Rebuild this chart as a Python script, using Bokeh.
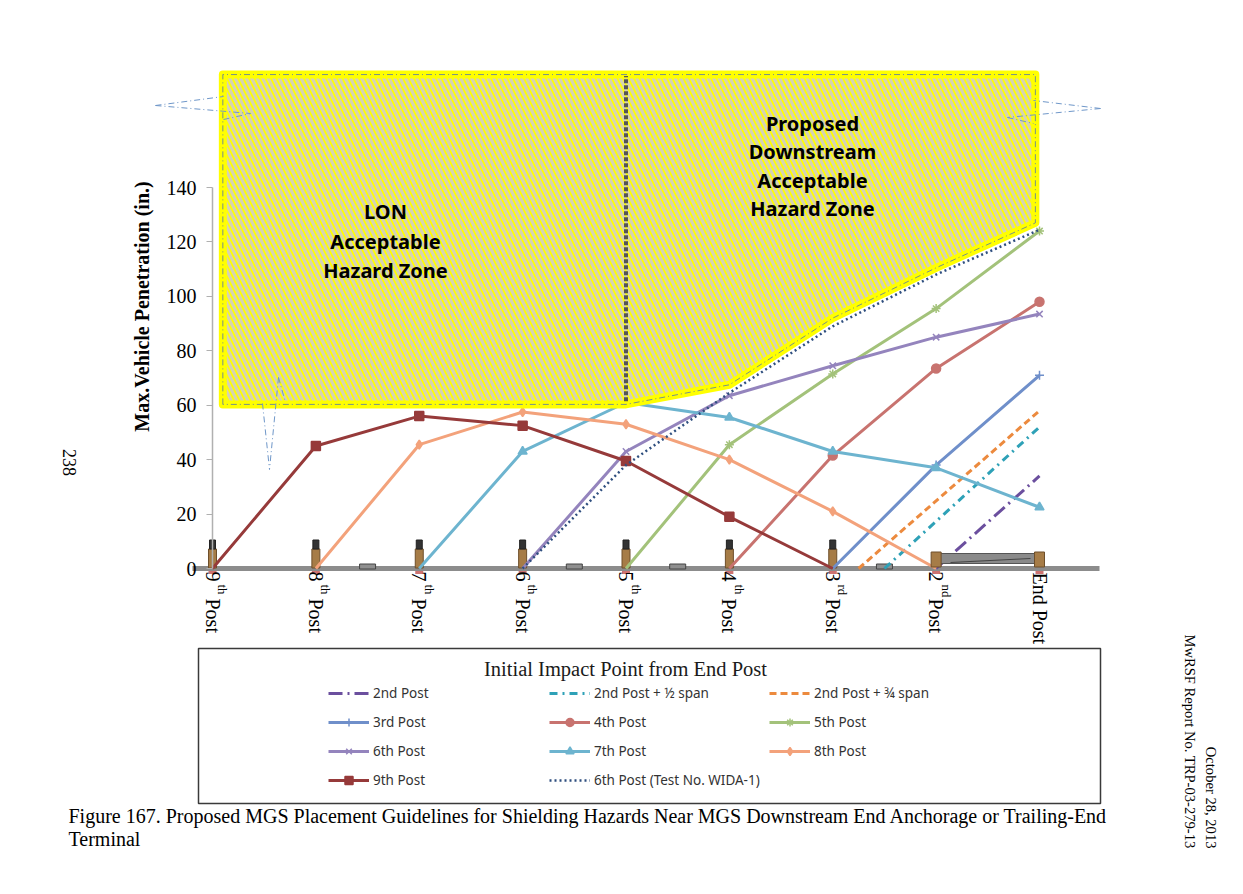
from math import pi

from bokeh.core.properties import value
from bokeh.embed import file_html
from bokeh.models import Legend, LegendItem
from bokeh.plotting import figure
from bokeh.resources import INLINE

# ---- data -------------------------------------------------------------
posts = ["9th Post", "8th Post", "7th Post", "6th Post", "5th Post",
         "4th Post", "3rd Post", "2nd Post", "End Post"]
post_num = ["9", "8", "7", "6", "5", "4", "3", "2"]
post_sup = ["th", "th", "th", "th", "th", "th", "rd", "nd"]
post_x = list(range(len(posts)))          # 0 = 9th post ... 8 = end post
y_ticks = [0, 20, 40, 60, 80, 100, 120, 140]

# max vehicle penetration (in.) vs. post position, one pair per impact point
p9_x = [0, 1, 2, 3, 4, 5, 6]
p9_y = [0, 45, 56, 52.5, 39.5, 19, 0]
p8_x = [1, 2, 3, 4, 5, 6, 7]
p8_y = [0, 45.5, 57.5, 53, 40, 21, 0]
p7_x = [2, 3, 4, 5, 6, 7, 8]
p7_y = [0, 43, 61, 55.5, 43, 37, 22.5]
p6_x = [3, 4, 5, 6, 7, 8]
p6_y = [0, 43, 63.5, 74.5, 85, 93.5]
p5_x = [4, 5, 6, 7, 8]
p5_y = [0, 45.5, 71.5, 95.5, 124]
p4_x = [5, 6, 7, 8]
p4_y = [0, 41.5, 73.5, 98]
p3_x = [6, 7, 8]
p3_y = [0, 38, 71]
p2q_x = [6.25, 8]
p2q_y = [0, 58]
p2h_x = [6.5, 8]
p2h_y = [0, 52]
p2_x = [7, 8]
p2_y = [0, 34]
wida_x = [3, 4, 5, 6, 7, 8]
wida_y = [0, 38, 64.5, 89, 108, 124.5]

# acceptable hazard zone outline
zone_x = [0.1, 0.1, 7.96, 7.96, 7, 6, 5, 4, 0.1]
zone_y = [60.3, 181.5, 181.5, 127, 110.5, 92, 67.5, 60.3, 60.3]
zone_split = 4       # divider between LON and downstream zones

# ---- page layout (reference pixels) -----------------------------------
FRAME_LEFT = 58
FRAME_TOP = 0
FRAME_W = 1182
FRAME_H = 890
POST0_PX = 212
POST_STEP = 103.375
ZERO_PX = 568
UNIT_PX = 381 / 140


def px2x(px):
    return (px - POST0_PX) / POST_STEP


def px2y(py):
    return (ZERO_PX - py) / UNIT_PX


SERIF = "Liberation Serif"
SANS = "Noto Sans"

p = figure(frame_width=FRAME_W, frame_height=FRAME_H,
           x_range=(px2x(FRAME_LEFT), px2x(FRAME_LEFT + FRAME_W)),
           y_range=(px2y(FRAME_TOP + FRAME_H), px2y(FRAME_TOP)),
           x_axis_type=None, tools="", toolbar_location=None,
           output_backend="svg", min_border=0, min_border_left=FRAME_LEFT)
p.outline_line_color = None
p.ygrid.visible = False

p.yaxis.fixed_location = 0
p.yaxis.bounds = (0, 140)
p.yaxis.ticker = y_ticks
p.yaxis.axis_line_color = "#b0b0b0"
p.yaxis.axis_line_width = 1.5
p.yaxis.major_tick_line_color = "#b0b0b0"
p.yaxis.major_tick_out = 6
p.yaxis.major_tick_in = 0
p.yaxis.minor_tick_line_color = None
p.yaxis.major_label_standoff = 10
p.yaxis.major_label_text_font = SERIF
p.yaxis.major_label_text_font_size = "20px"
p.yaxis.major_label_text_color = "black"

# y axis title (sits above the axis centre in the reference)
p.text(x=[px2x(141)], y=[px2y(306)], text=["Max.Vehicle Penetration (in.)"],
       angle=pi / 2, text_align="center", text_baseline="middle",
       text_font=value(SERIF), text_font_style="bold", text_font_size="20px",
       text_color="black")

# ---- guardrail drawing ------------------------------------------------
p.segment(x0=[px2x(192)], y0=[0], x1=[px2x(1099)], y1=[0],
          line_color="#8c8c8c", line_width=5)
for sx in [1.5, 3.5, 4.5, 6.5]:
    p.rect(x=[sx], y=[px2y(566)], width=16, height=5, width_units="screen",
           height_units="screen", fill_color="#8f8f8f", line_color="#454545")

wood = post_x[:7]
p.rect(x=wood, y=[px2y(558)] * 7, width=8, height=19, width_units="screen",
       height_units="screen", fill_color="#a67c47", line_color="#6e4f2b")
p.rect(x=wood, y=[px2y(544)] * 7, width=6, height=9, width_units="screen",
       height_units="screen", fill_color="#333333", line_color="#222222")
p.rect(x=post_x, y=[px2y(572)] * 9, width=8, height=3, width_units="screen",
       height_units="screen", fill_color="#c0504d", line_color=None, fill_alpha=0.8)

# ---- series -----------------------------------------------------------
series = [
    ("2nd Post", p2_x, p2_y, "#6b4f9e", "14 5 2 5", None),
    ("2nd Post + ½ span", p2h_x, p2h_y, "#2ea1b7", "8 5 2 5", None),
    ("2nd Post + ¾ span", p2q_x, p2q_y, "#ec8a3e", "7 4", None),
    ("3rd Post", p3_x, p3_y, "#6f8fca", "solid", "cross"),
    ("4th Post", p4_x, p4_y, "#c8736f", "solid", "circle"),
    ("5th Post", p5_x, p5_y, "#a3c27a", "solid", "asterisk"),
    ("6th Post", p6_x, p6_y, "#9484bd", "solid", "x"),
    ("7th Post", p7_x, p7_y, "#6db4cf", "solid", "triangle"),
    ("8th Post", p8_x, p8_y, "#f3a27b", "solid", "diamond"),
    ("9th Post", p9_x, p9_y, "#963a3a", "solid", "square"),
    ("6th Post (Test No. WIDA-1)", wida_x, wida_y, "#2f4f7f", "2 3", None),
]

items = {}
for name, xs, ys, color, dash, marker in series:
    width = 2.5 if dash == "2 3" else 3
    rs = [p.line(xs, ys, line_color=color, line_width=width, line_dash=dash)]
    if marker:
        mx = [x for x, y in zip(xs, ys) if y > 0]
        my = [y for y in ys if y > 0]
        rs.append(p.scatter(mx, my, marker=marker, size=9, fill_color=color,
                            line_color=color, line_width=1.5))
    items[name] = LegendItem(label=name, renderers=rs)

# end anchorage sits over the start of the 2nd-post line
p.quad(left=[7.04], right=[7.96], top=[px2y(553)], bottom=[px2y(563)],
       fill_color="#8a8a8a", line_color="#555555")
p.line([px2x(950), px2x(1030)], [px2y(562), px2y(558)],
       line_color="#444444", line_width=1)
p.rect(x=post_x[7:], y=[px2y(559)] * 2, width=10, height=15, width_units="screen",
       height_units="screen", fill_color="#a67c47", line_color="#6e4f2b")

# ---- hazard zones -----------------------------------------------------
p.patch(zone_x, zone_y, fill_color="#ffff00", hatch_pattern="left_diagonal_line",
        hatch_color="#d6d2b2", hatch_scale=11, hatch_weight=3.2,
        line_color="#ffff00", line_width=8, line_join="round")
p.line(zone_x, zone_y, line_color="#5f7f9f", line_width=1, line_dash="6 3 1 3",
       line_alpha=0.85)
p.line([zone_split, zone_split], [61.5, 181], line_color="#555555",
       line_width=4, line_dash="4 2")

# stray callout shapes that sit on the zone outline
callouts = [
    [(155, 105), (223, 96)], [(155, 105), (250, 113)], [(223, 119), (250, 113)],
    [(1100, 108), (1033, 100)], [(1100, 108), (1007, 117)], [(1007, 117), (1033, 123)],
    [(262, 403), (269, 469)], [(278, 377), (269, 469)], [(278, 377), (285, 402)],
]
p.multi_line(xs=[[px2x(a[0]), px2x(b[0])] for a, b in callouts],
             ys=[[px2y(a[1]), px2y(b[1])] for a, b in callouts],
             line_color="#6f97c9", line_width=1, line_dash="6 3 1 3")

p.text(x=[px2x(385)] * 3, y=[px2y(211), px2y(241), px2y(270)],
       text=["LON", "Acceptable", "Hazard Zone"], text_align="center",
       text_baseline="middle", text_font=value(SANS), text_font_style="bold",
       text_font_size="20px", text_color="black")
p.text(x=[px2x(812)] * 4, y=[px2y(123), px2y(151), px2y(180), px2y(208)],
       text=["Proposed", "Downstream", "Acceptable", "Hazard Zone"],
       text_align="center", text_baseline="middle", text_font=value(SANS),
       text_font_style="bold", text_font_size="20px", text_color="black")

# ---- post labels (rotated, with superscripts) -------------------------
num_x = post_x[:8]
p.text(x=num_x, y=[px2y(571)] * 8, text=post_num, angle=-pi / 2,
       text_align="left", text_baseline="middle", text_font=value(SERIF),
       text_font_size="20px", text_color="black")
p.text(x=[x + 10 / POST_STEP for x in num_x], y=[px2y(584)] * 8, text=post_sup,
       angle=-pi / 2, text_align="left", text_baseline="middle",
       text_font=value(SERIF), text_font_size="13px", text_color="black")
p.text(x=num_x, y=[px2y(598)] * 8, text=["Post"] * 8, angle=-pi / 2,
       text_align="left", text_baseline="middle", text_font=value(SERIF),
       text_font_size="20px", text_color="black")
p.text(x=[post_x[8]], y=[px2y(572)], text=[posts[8]], angle=-pi / 2,
       text_align="left", text_baseline="middle", text_font=value(SERIF),
       text_font_size="20px", text_color="black")

# ---- legend -----------------------------------------------------------
p.quad(left=[px2x(198)], right=[px2x(1100)], top=[px2y(648)], bottom=[px2y(803)],
       fill_color="white", line_color="#3a3a3a", line_width=1.5)
p.text(x=[px2x(625)], y=[px2y(668)], text=["Initial Impact Point from End Post"],
       text_align="center", text_baseline="middle", text_font=value(SERIF),
       text_font_size="20.5px", text_color="#1a1a1a")

legend_cols = [
    (328, ["2nd Post", "3rd Post", "6th Post", "9th Post"]),
    (549, ["2nd Post + ½ span", "4th Post", "7th Post", "6th Post (Test No. WIDA-1)"]),
    (769, ["2nd Post + ¾ span", "5th Post", "8th Post"]),
]
ROW_H, ROW_GAP, LEG_TOP = 20, 9, 683
for left_px, names in legend_cols:
    bottom_px = LEG_TOP + len(names) * ROW_H + (len(names) - 1) * ROW_GAP
    leg = Legend(items=[items[n] for n in names],
                 location=(left_px - FRAME_LEFT, FRAME_TOP + FRAME_H - bottom_px),
                 orientation="vertical", padding=0, margin=0, spacing=ROW_GAP,
                 glyph_width=41, glyph_height=ROW_H, label_height=ROW_H,
                 label_standoff=4, label_text_font=SANS, label_text_font_size="13.5px",
                 label_text_color="#333333", background_fill_alpha=0,
                 border_line_color=None)
    p.add_layout(leg, "center")

# ---- page texts -------------------------------------------------------
p.text(x=[px2x(68)] * 2, y=[px2y(815), px2y(838)],
       text=["Figure 167. Proposed MGS Placement Guidelines for Shielding Hazards "
             "Near MGS Downstream End Anchorage or Trailing-End", "Terminal"],
       text_align="left", text_baseline="middle", text_font=value(SERIF),
       text_font_size="20px", text_color="black")
p.text(x=[px2x(1210), px2x(1189)], y=[px2y(848)] * 2,
       text=["October 28, 2013", "MwRSF Report No. TRP-03-279-13"], angle=-pi / 2,
       text_align="right", text_baseline="middle", text_font=value(SERIF),
       text_font_size="14.6px", text_color="black")
p.text(x=[px2x(69)], y=[px2y(462)], text=["238"], angle=-pi / 2,
       text_align="center", text_baseline="middle", text_font=value(SERIF),
       text_font_size="18px", text_color="black")

open("out.html", "w").write(file_html(p, INLINE))
